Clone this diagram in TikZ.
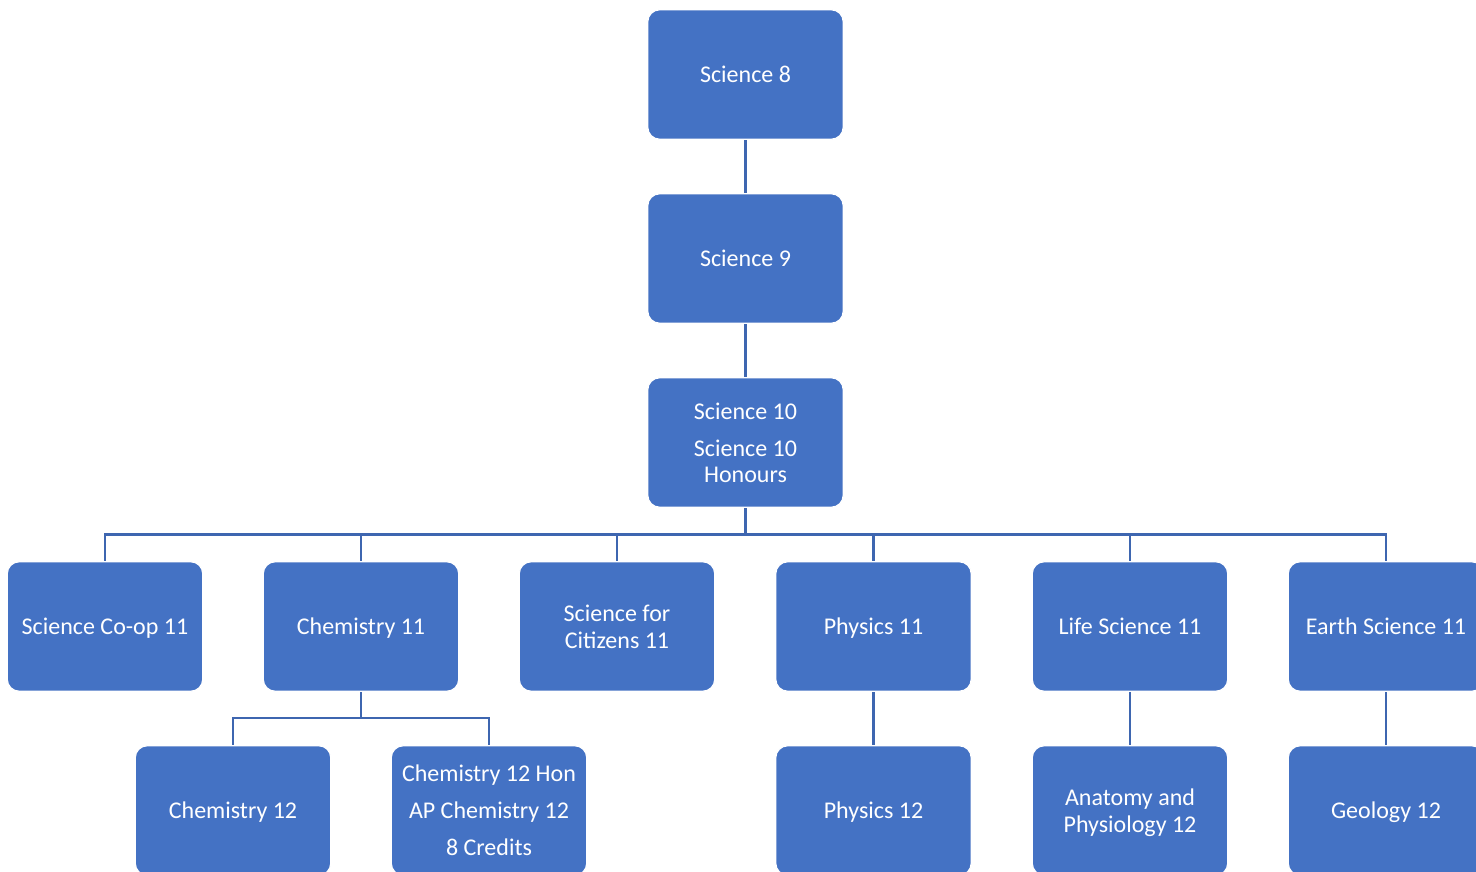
\documentclass[tikz,border=0pt]{standalone}
\usepackage{fontspec}
\setmainfont{Carlito}
\definecolor{boxblue}{HTML}{4472C4}
\definecolor{lineblue}{HTML}{3E66B0}
\tikzset{
  course/.style={rectangle, rounded corners=12pt, fill=boxblue, draw=white, line width=1.2pt,
    minimum width=195.5pt, minimum height=129.5pt, inner sep=2pt, outer sep=0.8pt,
    text depth=0pt,
    text=white, align=center, font=\fontsize{24}{26.5}\selectfont},
  link/.style={draw=lineblue, line width=2.6pt}
}
\begin{document}
\begin{tikzpicture}[x=1pt,y=-1pt]
\clip (0,0) rectangle (1476,871);
\fill[white] (0,0) rectangle (1476,871);
% top chain
\node[course] (s8)  at (745.5,74.5)  {Science 8};
\node[course] (s9)  at (745.5,258.5) {Science 9};
\node[course] (s10) at (745.5,442.5) {Science 10\\[10.5pt]Science 10\\Honours};
% grade 11
\node[course] (coop) at (105,626.5)  {Science Co-op 11};
\node[course] (ch11) at (361,626.5)  {Chemistry 11};
\node[course] (sfc)  at (617,626.5)  {Science for\\Citizens 11};
\node[course] (ph11) at (873.5,626.5) {Physics 11};
\node[course] (ls11) at (1130,626.5) {Life Science 11};
\node[course] (es11) at (1386,626.5) {Earth Science 11};
% grade 12
\node[course] (ch12)  at (233,810.5)  {Chemistry 12};
\node[course] (ch12h) at (489,810.5)  {Chemistry 12 Hon\\[10.5pt]AP Chemistry 12\\[10.5pt]8 Credits};
\node[course] (ph12)  at (873.5,810.5) {Physics 12};
\node[course] (ap12)  at (1130,810.5) {Anatomy and\\Physiology 12};
\node[course] (geo12) at (1386,810.5) {Geology 12};
% bus coordinates
\coordinate (bus) at (745.5,534.5);
\coordinate (chbus) at (361,718);
% connectors
\path[link] (s8) -- (s9);
\path[link] (s9) -- (s10);
\foreach \c in {coop,ch11,sfc,ph11,ls11,es11}
  \path[link] (s10.south) -- (s10.south |- bus) -| (\c.north);
\path[link] (ch11.south) -- (ch11.south |- chbus) -| (ch12.north);
\path[link] (ch11.south) -- (ch11.south |- chbus) -| (ch12h.north);
\path[link] (ph11) -- (ph12);
\path[link] (ls11) -- (ap12);
\path[link] (es11) -- (geo12);
\end{tikzpicture}
\end{document}
